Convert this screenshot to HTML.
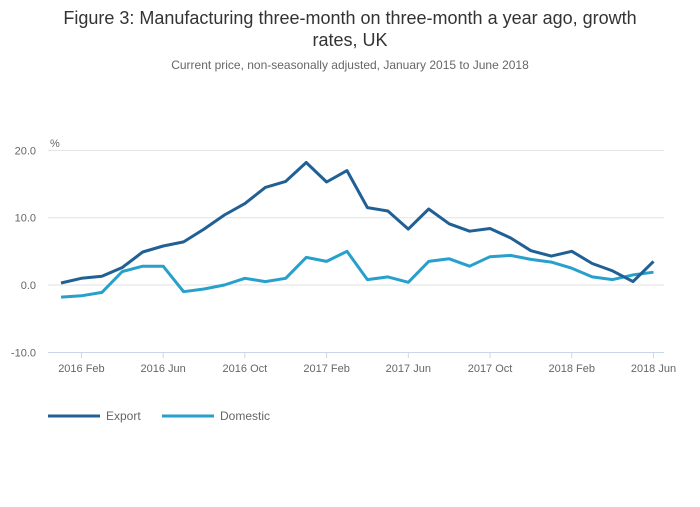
<!DOCTYPE html>
<html><head><meta charset="utf-8"><style>
body{margin:0;background:#fff;font-family:"Liberation Sans",sans-serif;}
svg text{font-family:"Liberation Sans",sans-serif;}
</style></head><body>
<svg id="chart" width="700" height="502" viewBox="0 0 700 502">
<text x="350" y="24" text-anchor="middle" font-size="18" fill="#333">Figure 3: Manufacturing three-month on three-month a year ago, growth</text>
<text x="350" y="46" text-anchor="middle" font-size="18" fill="#333">rates, UK</text>
<text x="350" y="69" text-anchor="middle" font-size="12" fill="#666">Current price, non-seasonally adjusted, January 2015 to June 2018</text>
<text x="50" y="147" font-size="11" fill="#666">%</text>
<g id="grid"></g><g id="xaxis"></g><g id="series"></g>
<g>
<line x1="48" y1="416" x2="100" y2="416" stroke="#206095" stroke-width="3"/>
<text x="106" y="420" font-size="12" fill="#666">Export</text>
<line x1="162" y1="416" x2="214" y2="416" stroke="#27a0cc" stroke-width="3"/>
<text x="220" y="420" font-size="12" fill="#666">Domestic</text>
</g>
</svg>
<script>
const yTicks=[20,10,0,-10];
const yTickLabels=["20.0","10.0","0.0","-10.0"];
const xTickLabels=["2016 Feb","2016 Jun","2016 Oct","2017 Feb","2017 Jun","2017 Oct","2018 Feb","2018 Jun"];
const xTickIndex=[1,5,9,13,17,21,25,29];
const exportVals=[0.3,1.0,1.3,2.6,4.9,5.8,6.4,8.3,10.4,12.1,14.5,15.4,18.2,15.3,17.0,11.5,11.0,8.3,11.3,9.1,8.0,8.4,7.0,5.1,4.3,5.0,3.2,2.1,0.5,3.5];
const domesticVals=[-1.8,-1.6,-1.1,2.0,2.8,2.8,-1.0,-0.6,0.0,1.0,0.5,1.0,4.1,3.5,5.0,0.8,1.2,0.4,3.5,3.9,2.8,4.2,4.4,3.8,3.4,2.5,1.2,0.8,1.5,1.9];
const NS="http://www.w3.org/2000/svg";
function y(v){return 285-v*6.73;}
function x(i){return 61+i*20.43;}
function mk(t,a,p){const e=document.createElementNS(NS,t);for(const k in a)e.setAttribute(k,a[k]);p.appendChild(e);return e;}
const grid=document.getElementById('grid');
yTicks.forEach((t,i)=>{
 if(t>-10){const l=mk('line',{x1:48,x2:664,y1:y(t),y2:y(t),stroke:'#e2e2e2'},grid);
 
 }
 const tx=mk('text',{x:36,y:y(t)+4,'text-anchor':'end','font-size':11,fill:'#666'},grid);
 tx.textContent=yTickLabels[i];
 
 
});
const xa=document.getElementById('xaxis');
const al=mk('line',{x1:48,x2:664,y1:352.5,y2:352.5,stroke:'#ccd6eb'},xa);


xTickIndex.forEach((ix,i)=>{
 const tk=mk('line',{x1:x(ix),x2:x(ix),y1:352,y2:358,stroke:'#ccd6eb'},xa);
 
 
 const tx=mk('text',{x:x(ix),y:372,'text-anchor':'middle','font-size':11,fill:'#666'},xa);
 tx.textContent=xTickLabels[i];
 
 
});
const sg=document.getElementById('series');
function line(vals,col,name){
 const p=mk('path',{d:vals.map((v,i)=>(i?'L':'M')+x(i).toFixed(1)+' '+y(v).toFixed(1)).join(' '),fill:'none',stroke:col,'stroke-width':3,'stroke-linejoin':'round'},sg);
 
 
}
line(domesticVals,'#27a0cc','domestic-line');
line(exportVals,'#206095','export-line');
</script>
</body></html>
